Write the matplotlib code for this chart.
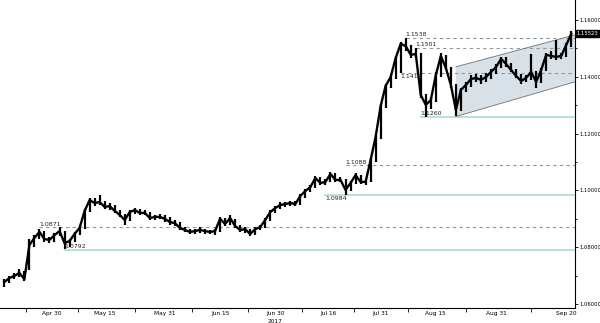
import matplotlib
matplotlib.use("Agg")
import matplotlib.pyplot as plt
import numpy as np
import pandas as pd

# trading days shown on the chart
dates = pd.bdate_range("2017-04-17", "2017-09-21")

closes = [1.0678, 1.0692, 1.0699, 1.0710, 1.0688,
          1.0808, 1.0833, 1.0854, 1.0829, 1.0826,
          1.0843, 1.0857, 1.0815, 1.0822, 1.0847,
          1.0868, 1.0928, 1.0966, 1.0956, 1.0959,
          1.0942, 1.0945, 1.0928, 1.0914, 1.0896,
          1.0924, 1.0931, 1.0921, 1.0921, 1.0903,
          1.0907, 1.0907, 1.0900, 1.0889, 1.0885,
          1.0868, 1.0861, 1.0854, 1.0857, 1.0861,
          1.0857, 1.0854, 1.0857, 1.0900, 1.0882,
          1.0903, 1.0875, 1.0861, 1.0864, 1.0847,
          1.0864, 1.0871, 1.0896, 1.0924, 1.0938,
          1.0949, 1.0952, 1.0956, 1.0952, 1.0981,
          1.0998, 1.1012, 1.1044, 1.1026, 1.1030,
          1.1058, 1.1037, 1.1037, 1.1002, 1.1026,
          1.1054, 1.1030, 1.1030, 1.1107, 1.1188,
          1.1297, 1.1368, 1.1399, 1.1466, 1.1516,
          1.1508, 1.1477, 1.1480, 1.1336, 1.1301,
          1.1318, 1.1406, 1.1473, 1.1431, 1.1371,
          1.1283, 1.1354, 1.1371, 1.1392, 1.1396,
          1.1389, 1.1399, 1.1417, 1.1434, 1.1463,
          1.1445, 1.1424, 1.1403, 1.1385, 1.1396,
          1.1417, 1.1382, 1.1424, 1.1477, 1.1473,
          1.1470, 1.1473, 1.1512, 1.1551]

highs = [1.0690, 1.0700, 1.0708, 1.0722, 1.0715,
         1.0830, 1.0842, 1.0866, 1.0858, 1.0838,
         1.0852, 1.0871, 1.0858, 1.0830, 1.0855,
         1.0878, 1.0935, 1.0975, 1.0972, 1.0985,
         1.0962, 1.0955, 1.0950, 1.0932, 1.0918,
         1.0930, 1.0940, 1.0935, 1.0932, 1.0925,
         1.0915, 1.0918, 1.0912, 1.0905, 1.0895,
         1.0888, 1.0872, 1.0866, 1.0865, 1.0870,
         1.0866, 1.0862, 1.0865, 1.0908, 1.0902,
         1.0912, 1.0900, 1.0878, 1.0872, 1.0866,
         1.0870, 1.0880, 1.0902, 1.0930, 1.0945,
         1.0958, 1.0960, 1.0962, 1.0962, 1.0988,
         1.1005, 1.1020, 1.1052, 1.1048, 1.1040,
         1.1066, 1.1060, 1.1048, 1.1040, 1.1035,
         1.1062, 1.1056, 1.1040, 1.1115, 1.1196,
         1.1305, 1.1376, 1.1410, 1.1474, 1.1524,
         1.1538, 1.1512, 1.1501, 1.1485, 1.1340,
         1.1330, 1.1415, 1.1482, 1.1475, 1.1435,
         1.1375, 1.1362, 1.1382, 1.1405, 1.1410,
         1.1405, 1.1412, 1.1428, 1.1445, 1.1470,
         1.1468, 1.1450, 1.1428, 1.1408, 1.1405,
         1.1480, 1.1420, 1.1432, 1.1485, 1.1490,
         1.1530, 1.1485, 1.1520, 1.1562]

lows = [1.0662, 1.0675, 1.0688, 1.0696, 1.0680,
        1.0720, 1.0800, 1.0828, 1.0820, 1.0814,
        1.0820, 1.0840, 1.0795, 1.0802, 1.0818,
        1.0843, 1.0865, 1.0925, 1.0945, 1.0948,
        1.0935, 1.0932, 1.0920, 1.0905, 1.0878,
        1.0893, 1.0918, 1.0912, 1.0912, 1.0896,
        1.0895, 1.0898, 1.0890, 1.0880, 1.0876,
        1.0860, 1.0853, 1.0847, 1.0848, 1.0851,
        1.0848, 1.0846, 1.0845, 1.0855, 1.0875,
        1.0878, 1.0868, 1.0855, 1.0852, 1.0840,
        1.0845, 1.0860, 1.0868, 1.0892, 1.0920,
        1.0935, 1.0942, 1.0945, 1.0944, 1.0950,
        1.0975, 1.0995, 1.1010, 1.1018, 1.1020,
        1.1028, 1.1030, 1.1028, 1.0984, 1.0998,
        1.1024, 1.1022, 1.1018, 1.1028, 1.1100,
        1.1180, 1.1290, 1.1360, 1.1392, 1.1412,
        1.1490, 1.1465, 1.1468, 1.1325, 1.1260,
        1.1285, 1.1310, 1.1400, 1.1422, 1.1360,
        1.1262, 1.1280, 1.1345, 1.1365, 1.1382,
        1.1375, 1.1380, 1.1392, 1.1410, 1.1430,
        1.1435, 1.1415, 1.1395, 1.1375, 1.1380,
        1.1390, 1.1362, 1.1378, 1.1420, 1.1462,
        1.1460, 1.1462, 1.1470, 1.1505]

last_price = 1.15523

# support / resistance levels: (value, start date, dashed?, label below line?)
levels = [
    (1.0871, "2017-04-26", True, False),
    (1.0792, "2017-05-03", False, False),
    (1.0984, "2017-07-14", False, True),
    (1.1088, "2017-07-20", True, False),
    (1.1412, "2017-08-04", True, True),
    (1.1538, "2017-08-07", True, False),
    (1.1501, "2017-08-09", True, False),
    (1.1260, "2017-08-10", False, False),
]

# rising channel
chan_start = "2017-08-21"
chan_lower = [1.1260, 1.1382]
chan_upper = [1.1435, 1.1547]

tick_dates = ["2017-04-30", "2017-05-15", "2017-05-31", "2017-06-15", "2017-06-30",
              "2017-07-16", "2017-07-31", "2017-08-15", "2017-08-31", "2017-09-20"]
tick_labels = ["Apr 30", "May 15", "May 31", "Jun 15", "Jun 30",
               "Jul 16", "Jul 31", "Aug 15", "Aug 31", "Sep 20"]


def pos(d):
    d = pd.Timestamp(d)
    i = np.searchsorted(dates, d)
    return i - 0.5 if d.weekday() >= 5 else i


idx = np.arange(len(dates))
x0, x1 = -0.86, 113.7
fs = 4.2

fig = plt.figure(figsize=(6, 3.23), dpi=100)
ax = fig.add_axes([0, 0.046, 0.958, 0.954])

dash_col = "#8e9999"
solid_col = "#b3ded6"
for val, start, dashed, below in levels:
    s = pos(start)
    if dashed:
        ax.plot([s, x1], [val, val], color=dash_col, lw=0.8, ls=(0, (3, 3)), zorder=1)
    else:
        ax.plot([s, x1], [val, val], color=solid_col, lw=1.3, zorder=1)
    ax.text(s, val - 0.0004 if below else val + 0.0002, "%.4f" % val,
            fontsize=fs + 0.3, va="top" if below else "bottom", ha="left",
            color="#222222", zorder=4)

cs = pos(chan_start)
ax.fill([cs, cs, x1, x1], [chan_lower[0], chan_upper[0], chan_upper[1], chan_lower[1]],
        color="#d8e1e8", lw=0, zorder=0)
ax.plot([cs, x1], chan_lower, color="#6e7378", lw=0.6, zorder=2)
ax.plot([cs, x1], chan_upper, color="#6e7378", lw=0.6, zorder=2)

ax.vlines(idx, lows, highs, color="black", lw=1.6, zorder=3)
ax.plot(idx, closes, color="black", lw=1.7, zorder=3)

ax.set_xlim(x0, x1)
ax.set_ylim(1.0586, 1.1670)

for sp in ["left", "top"]:
    ax.spines[sp].set_visible(False)
for sp in ["right", "bottom"]:
    ax.spines[sp].set_linewidth(0.8)

ax.yaxis.tick_right()
yt = np.arange(1.06, 1.1601, 0.02)
ax.set_yticks(yt)
ax.set_yticks(np.arange(1.07, 1.16, 0.02), minor=True)
ax.set_yticklabels(["%.5f" % v for v in yt])
ax.tick_params(axis="y", which="major", labelsize=fs - 0.4, length=2.5, width=0.6, pad=1)
ax.tick_params(axis="y", which="minor", length=1.5, width=0.6)

lab_pos = [pos(d) for d in tick_dates]
mids = [lab_pos[0] - (lab_pos[1] - lab_pos[0]) / 2] + \
       [(a + b) / 2 for a, b in zip(lab_pos[:-1], lab_pos[1:])]
ax.set_xticks(mids)
ax.set_xticklabels([""] * len(mids))
ax.set_xticks(lab_pos, minor=True)
ax.set_xticklabels(tick_labels, minor=True)
ax.tick_params(axis="x", which="major", length=3, width=0.6)
ax.tick_params(axis="x", which="minor", length=0, labelsize=fs, pad=2)
ax.text(pos("2017-06-30"), -0.035, "2017", transform=ax.get_xaxis_transform(),
        ha="center", va="top", fontsize=fs)

ax.annotate("%.5f" % last_price, xy=(1.0, last_price), xycoords=("axes fraction", "data"),
            xytext=(1.5, 0), textcoords="offset points", fontsize=fs - 0.4, color="white",
            va="center", ha="left", annotation_clip=False,
            bbox=dict(boxstyle="square,pad=0.15", fc="black", ec="black"))

fig.savefig("out.png", dpi=100, facecolor="white")
